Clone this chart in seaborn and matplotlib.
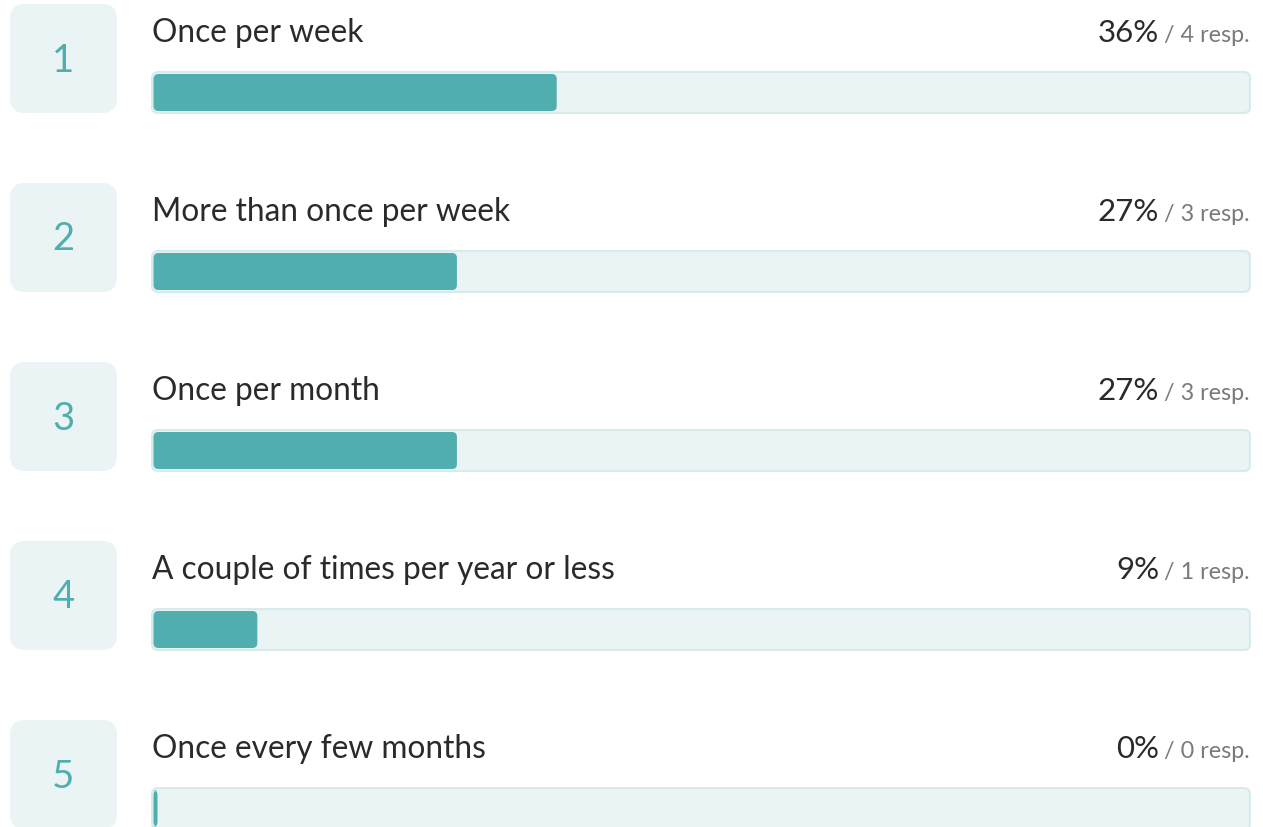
import matplotlib
matplotlib.use("Agg")
import matplotlib.pyplot as plt
from matplotlib.patches import FancyBboxPatch
import seaborn as sns

categories = ["Once per week", "More than once per week", "Once per month",
              "A couple of times per year or less", "Once every few months"]
ranks = ["1", "2", "3", "4", "5"]
percent = [36.36, 27.27, 27.27, 9.09, 0.0]
pct_labels = ["36%", "27%", "27%", "9%", "0%"]
responses = [4, 3, 3, 1, 0]

W, H = 1263, 827
sns.set_theme(style="white")
plt.rcParams["font.family"] = ["Lato", "DejaVu Sans"]

fig = plt.figure(figsize=(W / 100, H / 100), dpi=100)
ax = fig.add_axes([0, 0, 1, 1])

TEAL = "#50AFAE"
TRACK = "#EAF4F5"
TRACK_EDGE = "#D6EBEB"
BOX = "#EBF4F5"
TXT = "#2A2A2A"
GREY = "#7A7A7A"

# pixel layout helpers
X0, XW = 152, 1098          # track left & width in px
ROW0, ROWH = 92.5, 179      # first track centre, row pitch
pxx = XW / 100.0            # px per percent
def dx(px):                 # pixel x -> data x
    return (px - X0) / pxx
def dy(px_off):             # pixel offset -> row units
    return px_off / ROWH

sns.barplot(x=[100] * len(categories), y=categories, orient="h", color=TRACK,
            width=41 / ROWH, ax=ax)
n_track = len(ax.patches)
sns.barplot(x=percent, y=categories, orient="h", color=TEAL,
            width=37 / ROWH, ax=ax)

ax.set_xlim(dx(0), dx(W))
ax.set_ylim(dy(H - ROW0), dy(-ROW0))
ax.axis("off")

aspect = (1 / ROWH) / (1 / pxx)
patches = list(ax.patches)
for k, p in enumerate(patches):
    x, y, w, h = p.get_x(), p.get_y(), p.get_width(), p.get_height()
    p.remove()
    if k < n_track:
        fb = FancyBboxPatch((x, y), w, h,
                            boxstyle=f"round,pad=0,rounding_size={6 / pxx}",
                            mutation_aspect=aspect, fc=TRACK, ec=TRACK_EDGE,
                            lw=1.5, zorder=1)
    else:
        x1 = x + dx(X0 + 1.5)
        fb = FancyBboxPatch((x1, y), w + 4 / pxx, h,
                            boxstyle=f"round,pad=0,rounding_size={5 / pxx}",
                            mutation_aspect=aspect, fc=TEAL, ec="none",
                            zorder=2)
    ax.add_patch(fb)

for i in range(len(categories)):
    box = FancyBboxPatch((dx(10), i + dy(-88.5)), dx(117) - dx(10), dy(109),
                         boxstyle=f"round,pad=0,rounding_size={15 / pxx}",
                         mutation_aspect=aspect, fc=BOX, ec="none", zorder=1)
    ax.add_patch(box)
    ax.text(dx(63.5), i + dy(-32), ranks[i], ha="center", va="center",
            fontsize=27.5, color=TEAL, zorder=3)
    ax.text(dx(X0), i + dy(42 - ROW0), categories[i], ha="left",
            va="baseline", fontsize=22.8, color=TXT, zorder=3)
    ax.text(dx(1159), i + dy(42 - ROW0), pct_labels[i], ha="right",
            va="baseline", fontsize=22.5, color=TXT, zorder=3)
    ax.text(dx(1250), i + dy(42 - ROW0), f"/ {responses[i]} resp.",
            ha="right", va="baseline", fontsize=16.8, color=GREY, zorder=3)

fig.savefig("out.png", dpi=100, facecolor="white")
